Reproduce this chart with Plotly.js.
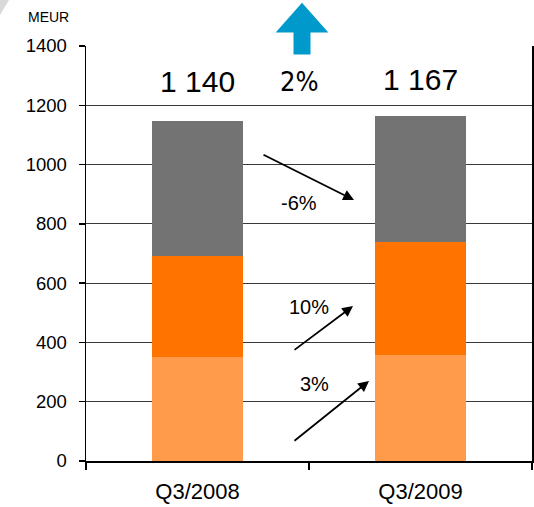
<!DOCTYPE html>
<html>
<head>
<meta charset="utf-8">
<script src="https://cdn.plot.ly/plotly-3.0.1.min.js"></script>
<style>html,body{margin:0;padding:0;background:#fff;}#chart{width:534px;height:507px;}</style>
</head>
<body>
<div id="chart"></div>
<script>
// ---- data ----
const categories = ['Q3/2008', 'Q3/2009'];
const segLight  = [352, 358];   // bottom segment
const segOrange = [340, 380];   // middle segment
const segGray   = [455, 426];   // top segment
const totalLabels = ['1 140', '1 167'];
const totalChange = '2%';
const segChanges = ['3%', '10%', '-6%']; // light, orange, gray
const yTicks = [0, 200, 400, 600, 800, 1000, 1200, 1400];
const unitLabel = 'MEUR';

// ---- geometry helpers (pixel -> paper) ----
const W = 534, H = 507, mL = 86, mR = 2, mT = 46, mB = 46;
const pw = W - mL - mR, ph = H - mT - mB;
const fx = x => (x - mL) / pw;
const fy = y => (H - mB - y) / ph;

const font = '"Liberation Sans", Arial, sans-serif';
const narrow = '"Liberation Sans Narrow", "Arial Narrow", "DejaVu Sans Condensed", sans-serif';
const barW = 0.404;

const traces = [
  {type: 'bar', x: categories, y: segLight, marker: {color: '#FF9B4B'}, width: barW, hoverinfo: 'none'},
  {type: 'bar', x: categories, y: segOrange, marker: {color: '#FF7300'}, width: barW, hoverinfo: 'none'},
  {type: 'bar', x: categories, y: segGray, marker: {color: '#737373'}, width: barW, hoverinfo: 'none'}
];

function label(x, y, text, size, fam) {
  return {xref: 'paper', yref: 'paper', x: fx(x), y: fy(y), xanchor: 'center', yanchor: 'middle',
          text: text, showarrow: false, font: {family: fam || font, size: size, color: '#000'}};
}
function arrow(x0, y0, x1, y1) {
  return {xref: 'paper', yref: 'paper', x: fx(x1), y: fy(y1), ax: x0 - x1, ay: y0 - y1,
          axref: 'pixel', ayref: 'pixel', text: '', showarrow: true,
          arrowhead: 2, arrowsize: 1.2, arrowwidth: 1.8, arrowcolor: '#000'};
}

const annotations = [
  {xref: 'x', yref: 'paper', x: categories[0], y: fy(81), xanchor: 'center', yanchor: 'middle',
   text: totalLabels[0], showarrow: false, font: {family: font, size: 30, color: '#000'}},
  {xref: 'x', yref: 'paper', x: categories[1], y: fy(79), xanchor: 'center', yanchor: 'middle',
   text: totalLabels[1], showarrow: false, font: {family: font, size: 30, color: '#000'}},
  label(299, 81, totalChange, 27, narrow),
  label(48, 17, unitLabel, 14),
  label(299, 203, segChanges[2], 20),
  label(309, 307, segChanges[1], 20),
  label(314.5, 384, segChanges[0], 20),
  arrow(262, 154, 354, 200),
  arrow(293, 351, 353, 306),
  arrow(293, 442, 369, 381)
];

// blue up arrow
const arrowPts = [[302,5],[325,31],[309,31],[309,53],[295,53],[295,31],[279,31]];
const arrowPath = 'M ' + arrowPts.map(p => fx(p[0]).toFixed(4) + ' ' + fy(p[1]).toFixed(4)).join(' L ') + ' Z';
const cornerPath = 'M ' + [[0,0],[9,0],[0,15]].map(p => fx(p[0]).toFixed(4) + ' ' + fy(p[1]).toFixed(4)).join(' L ') + ' Z';

const shapes = [
  {type: 'path', xref: 'paper', yref: 'paper', path: arrowPath, fillcolor: '#0099CC',
   line: {color: '#0099CC', width: 3}},
  {type: 'path', xref: 'paper', yref: 'paper', path: cornerPath, fillcolor: '#d9d9d9',
   line: {width: 0}}
];

const layout = {
  width: W, height: H,
  margin: {l: mL, r: mR, t: mT, b: mB, pad: 0},
  paper_bgcolor: '#fff', plot_bgcolor: '#fff',
  barmode: 'stack',
  showlegend: false,
  font: {family: font, color: '#000'},
  xaxis: {
    type: 'category', tickson: 'boundaries', range: [-0.5, 1.5],
    showline: true, linecolor: '#000', linewidth: 1.5,
    ticks: 'outside', ticklen: 7, tickcolor: '#000', tickwidth: 1.5,
    showgrid: false, tickfont: {family: font, size: 22, color: '#000'},
    ticklabelstandoff: 10, fixedrange: true
  },
  yaxis: {
    range: [0, 1400], tickvals: yTicks, ticktext: yTicks.map(String),
    showline: true, linecolor: '#000', linewidth: 1.5, mirror: true,
    ticks: 'outside', ticklen: 6, tickcolor: '#000', tickwidth: 1.5,
    showgrid: true, gridcolor: '#3a3a3a', gridwidth: 1,
    zeroline: false,
    tickfont: {family: font, size: 18.5, color: '#000'},
    ticklabelstandoff: 8, fixedrange: true
  },
  annotations: annotations,
  shapes: shapes
};

Plotly.newPlot('chart', traces, layout, {staticPlot: true, displayModeBar: false});
</script>
</body>
</html>
